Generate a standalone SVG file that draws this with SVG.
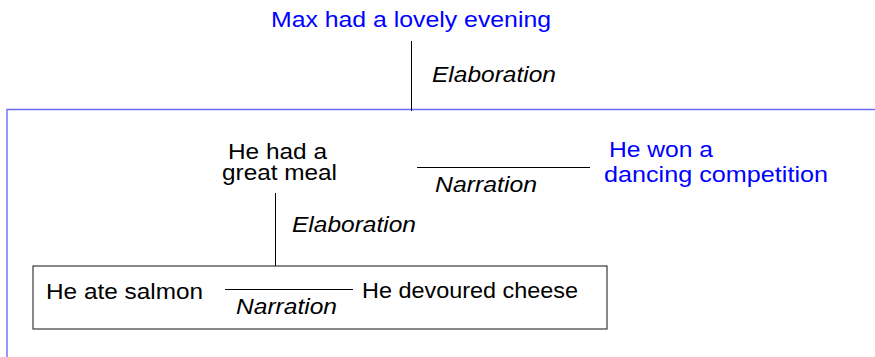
<svg xmlns="http://www.w3.org/2000/svg" width="875" height="357" viewBox="0 0 875 357">
<style>
text{font-family:"Liberation Sans",Arial,sans-serif;font-size:22px;fill:#000}
.blue{fill:#0000ff}
.it{font-style:italic}
.c{text-anchor:middle}
.ln{stroke:#000;stroke-width:1;fill:none}
.frame{stroke:#6b6bff;stroke-width:1.4;fill:none}
.box{stroke:#3a3a3a;stroke-width:1.2;fill:none}
</style>
<rect width="875" height="357" fill="#fff"/>
<g id="frame-outer"><path class="frame" d="M7,360 V109.5 H880"/></g>
<g id="connectors">
<line class="ln" x1="411.5" y1="41" x2="411.5" y2="111"/>
<text class="it" x="432" y="82" textLength="124" lengthAdjust="spacingAndGlyphs">Elaboration</text>
<line class="ln" x1="417" y1="167.5" x2="590" y2="167.5"/>
<text class="it" x="435" y="192" textLength="102" lengthAdjust="spacingAndGlyphs">Narration</text>
<line class="ln" x1="275.5" y1="193" x2="275.5" y2="266"/>
<text class="it" x="292" y="232" textLength="124" lengthAdjust="spacingAndGlyphs">Elaboration</text>
<line class="ln" x1="225" y1="289.5" x2="353" y2="289.5"/>
<text class="it" x="236" y="314" textLength="101" lengthAdjust="spacingAndGlyphs">Narration</text>
</g>
<g id="n-max"><text class="blue" x="271" y="27" textLength="280" lengthAdjust="spacingAndGlyphs">Max had a lovely evening</text></g>
<g id="n-meal">
<text x="228" y="159" textLength="99" lengthAdjust="spacingAndGlyphs">He had a</text>
<text x="222" y="180" textLength="115" lengthAdjust="spacingAndGlyphs">great meal</text>
</g>
<g id="n-dance">
<text class="blue" x="609" y="157" textLength="104" lengthAdjust="spacingAndGlyphs">He won a</text>
<text class="blue" x="604" y="182" textLength="224" lengthAdjust="spacingAndGlyphs">dancing competition</text>
</g>
<g id="n-box"><rect class="box" x="33" y="266" width="574" height="63"/></g>
<g id="n-salmon"><text x="46" y="299" textLength="157" lengthAdjust="spacingAndGlyphs">He ate salmon</text></g>
<g id="n-cheese"><text x="362" y="298" textLength="216" lengthAdjust="spacingAndGlyphs">He devoured cheese</text></g>
</svg>
